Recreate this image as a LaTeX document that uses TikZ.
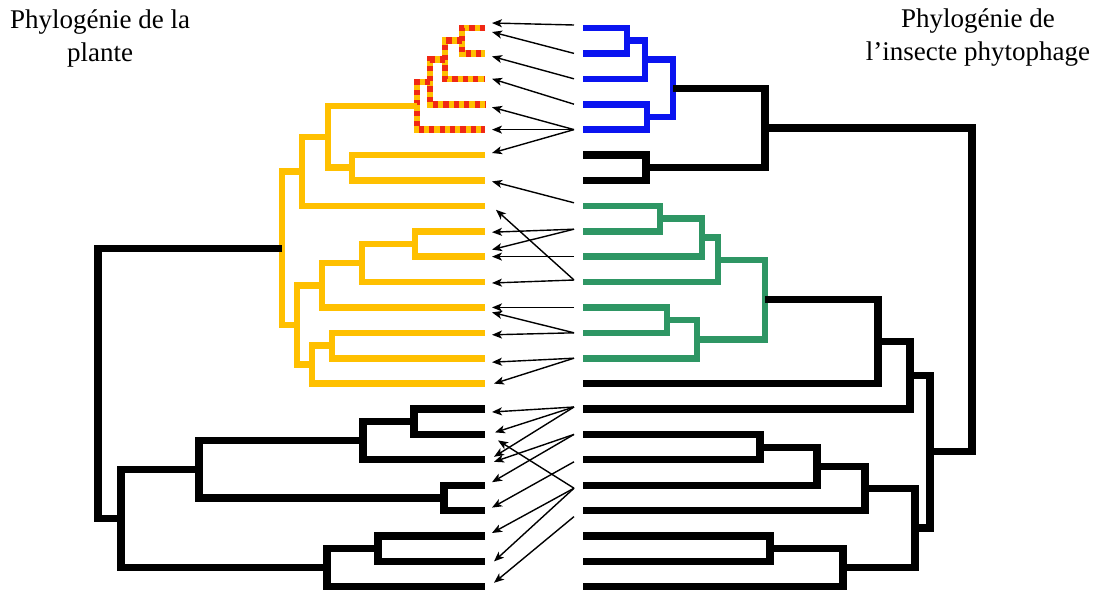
\documentclass[tikz,border=0pt]{standalone}
\usepackage{fontspec}
\setmainfont{Liberation Serif}
\usetikzlibrary{arrows.meta,calc}

\definecolor{jaune}{RGB}{255,192,0}
\definecolor{rouge}{RGB}{240,40,20}
\definecolor{bleu}{RGB}{10,20,240}
\definecolor{vert}{RGB}{46,150,100}

\tikzset{
    branche/.style={line width=3.3pt,line cap=butt,line join=miter},
    brnoir/.style={branche,draw=black,line width=3.6pt},
    brjaune/.style={branche,draw=jaune},
    brbleu/.style={branche,draw=bleu},
    brvert/.style={branche,draw=vert},
    hachure/.style={branche,draw=jaune,
        postaction={draw=rouge,dash pattern=on 2.6pt off 2.6pt}},
    fleche/.style={-{Stealth[length=5pt,width=4pt,inset=1.3pt]},line width=0.7pt},
    titre/.style={align=center,inner sep=0pt,font=\fontsize{13.5}{16.5}\selectfont}
}

% one clade: first child, second child, node
\newcommand{\clade}[4]{\draw[#1] (#2) -- (#2 -| #4) -- (#3 -| #4) -- (#3);}

\begin{document}
\begin{tikzpicture}[x=0.5pt,y=-0.5pt]
    \useasboundingbox (0,0) rectangle (1099,590);

    \foreach \i in {0,...,22} {
        \pgfmathsetmacro\yy{28+25.4*\i}
        \coordinate (pl\i) at (485,\yy);   % tips, plante
        \coordinate (in\i) at (583,\yy);   % tips, insecte
        \coordinate (pa\i) at (492,\yy);
        \coordinate (ia\i) at (574,\yy);
    }

    % plante
    \coordinate (o1) at (462, 40.7);
    \coordinate (o2) at (445, 59.75);
    \coordinate (o3) at (430, 82.0);
    \coordinate (o4) at (417,105.8);
    \coordinate (j1) at (352,167.7);
    \coordinate (j2) at (328,136.8);
    \coordinate (j3) at (302,171.3);
    \coordinate (j4) at (415,243.9);
    \coordinate (j5) at (362,263.0);
    \coordinate (j6) at (322,285.2);
    \coordinate (j7) at (332,345.5);
    \coordinate (j8) at (312,364.5);
    \coordinate (j9) at (297,324.9);
    \coordinate (j10) at (282,248.1);
    \coordinate (n1) at (414,421.7);
    \coordinate (n2) at (363,440.8);
    \coordinate (n3) at (444,497.9);
    \coordinate (n4) at (199,469.3);
    \coordinate (n5) at (378,548.7);
    \coordinate (n6) at (327,567.7);
    \coordinate (n7) at (121,518.5);
    \coordinate (rac) at (98,383.3);

    % insecte
    \coordinate (b1) at (627, 40.7);
    \coordinate (b2) at (645, 59.75);
    \coordinate (b3) at (647,116.9);
    \coordinate (b4) at (673, 88.3);
    \coordinate (m1) at (646,167.7);
    \coordinate (m2) at (765,128.0);
    \coordinate (v1) at (660,218.5);
    \coordinate (v2) at (702,237.6);
    \coordinate (v3) at (718,259.8);
    \coordinate (v4) at (667,320.1);
    \coordinate (v5) at (697,339.2);
    \coordinate (v6) at (765,299.5);
    \coordinate (m3) at (878,341.5);
    \coordinate (m4) at (910,375.3);
    \coordinate (m5) at (760,447.1);
    \coordinate (m6) at (817,466.2);
    \coordinate (m7) at (865,488.4);
    \coordinate (m8) at (770,548.7);
    \coordinate (m9) at (843,567.7);
    \coordinate (m10) at (915,528.0);
    \coordinate (m11) at (930,451.7);
    \coordinate (ins) at (972,289.8);

    \clade{hachure}{pl0}{pl1}{o1}
    \clade{hachure}{o1}{pl2}{o2}
    \clade{hachure}{o2}{pl3}{o3}
    \clade{hachure}{o3}{pl4}{o4}
    \clade{brjaune}{pl5}{pl6}{j1}
    \clade{brjaune}{o4}{j1}{j2}
    \clade{brjaune}{j2}{pl7}{j3}
    \clade{brjaune}{pl8}{pl9}{j4}
    \clade{brjaune}{j4}{pl10}{j5}
    \clade{brjaune}{j5}{pl11}{j6}
    \clade{brjaune}{pl12}{pl13}{j7}
    \clade{brjaune}{j7}{pl14}{j8}
    \clade{brjaune}{j6}{j8}{j9}
    \clade{brjaune}{j3}{j9}{j10}
    \clade{brnoir}{pl15}{pl16}{n1}
    \clade{brnoir}{n1}{pl17}{n2}
    \clade{brnoir}{pl18}{pl19}{n3}
    \clade{brnoir}{n2}{n3}{n4}
    \clade{brnoir}{pl20}{pl21}{n5}
    \clade{brnoir}{n5}{pl22}{n6}
    \clade{brnoir}{n4}{n6}{n7}
    \clade{brnoir}{j10}{n7}{rac}

    \clade{brbleu}{in0}{in1}{b1}
    \clade{brbleu}{b1}{in2}{b2}
    \clade{brbleu}{in3}{in4}{b3}
    \clade{brbleu}{b2}{b3}{b4}
    \clade{brnoir}{in5}{in6}{m1}
    \clade{brnoir}{b4}{m1}{m2}
    \clade{brvert}{in7}{in8}{v1}
    \clade{brvert}{v1}{in9}{v2}
    \clade{brvert}{v2}{in10}{v3}
    \clade{brvert}{in11}{in12}{v4}
    \clade{brvert}{v4}{in13}{v5}
    \clade{brvert}{v3}{v5}{v6}
    \clade{brnoir}{v6}{in14}{m3}
    \clade{brnoir}{m3}{in15}{m4}
    \clade{brnoir}{in16}{in17}{m5}
    \clade{brnoir}{m5}{in18}{m6}
    \clade{brnoir}{m6}{in19}{m7}
    \clade{brnoir}{in20}{in21}{m8}
    \clade{brnoir}{m8}{in22}{m9}
    \clade{brnoir}{m7}{m9}{m10}
    \clade{brnoir}{m4}{m10}{m11}
    \clade{brnoir}{m2}{m11}{ins}

    % associations
    \draw[fleche] ($(ia0)+(0,-3)$) -- ($(pa0)+(0,-5)$);
    \draw[fleche] (ia1) -- ($(pa0)+(0,4)$);
    \draw[fleche] (ia2) -- ($(pa1)+(0,3)$);
    \draw[fleche] (ia3) -- (pa2);
    \draw[fleche] (ia4) -- ($(pa3)+(0,3)$);
    \draw[fleche] (ia4) -- (pa4);
    \draw[fleche] (ia4) -- ($(pa5)+(0,-2)$);
    \draw[fleche] ($(ia7)+(0,-3)$) -- ($(pa6)+(0,1)$);
    \draw[fleche] ($(ia8)+(0,-2)$) -- ($(pa8)+(0,1)$);
    \draw[fleche] ($(ia8)+(0,-2)$) -- ($(pa9)+(0,-7)$);
    \draw[fleche] (ia9) -- (pa9);
    \draw[fleche] ($(ia10)+(0,-2)$) -- ($(pa10)+(0,1)$);
    \draw[fleche] ($(ia10)+(0,-2)$) -- ($(pa7)+(4,4)$);
    \draw[fleche] (ia11) -- (pa11);
    \draw[fleche] (ia12) -- ($(pa11)+(0,5)$);
    \draw[fleche] (ia12) -- ($(pa12)+(0,2)$);
    \draw[fleche] (ia13) -- ($(pa13)+(0,4)$);
    \draw[fleche] (ia13) -- ($(pa14)+(2,0)$);
    \draw[fleche] ($(ia15)+(0,-2)$) -- ($(pa15)+(0,3)$);
    \draw[fleche] ($(ia15)+(0,-2)$) -- ($(pa16)+(3,-2)$);
    \draw[fleche] ($(ia15)+(0,-2)$) -- ($(pa17)+(2,-3)$);
    \draw[fleche] (ia16) -- ($(pa17)+(2,2)$);
    \draw[fleche] (ia16) -- ($(pa18)+(0,-3)$);
    \draw[fleche] ($(ia17)+(0,2)$) -- ($(pa19)+(0,-3)$);
    \draw[fleche] ($(ia18)+(0,3)$) -- ($(pa16)+(6,6)$);
    \draw[fleche] ($(ia18)+(0,3)$) -- ($(pa20)+(0,-3)$);
    \draw[fleche] ($(ia18)+(0,3)$) -- ($(pa21)+(2,0)$);
    \draw[fleche] ($(ia19)+(0,6)$) -- ($(pa22)+(2,-4)$);

    \node[titre] (tplante) at (100,38) {Phylogénie de la\\plante};
    \node[titre] (tinsecte) at (978,38) {Phylogénie de\\l’insecte phytophage};

\end{tikzpicture}
\end{document}
